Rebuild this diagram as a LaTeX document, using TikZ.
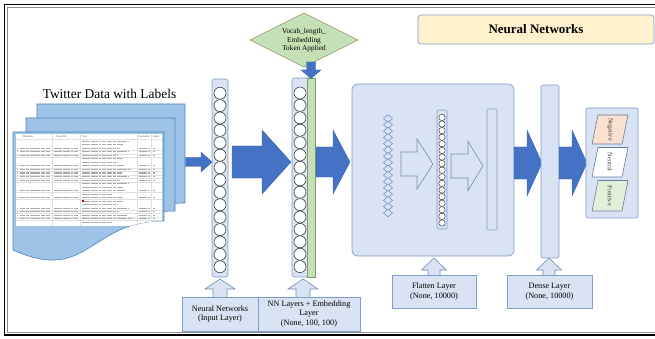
\documentclass[tikz,border=0pt]{standalone}
\usepackage{fontspec}
\setmainfont{Liberation Serif}
\usetikzlibrary{shapes.geometric}
\definecolor{lb}{HTML}{DAE3F3}
\definecolor{lbd}{HTML}{7F9CCB}
\definecolor{ab}{HTML}{4472C4}
\definecolor{docf}{HTML}{9DC3E6}
\definecolor{docd}{HTML}{4F82BE}
\definecolor{gf}{HTML}{C5E0B4}
\definecolor{gd}{HTML}{7F9B6E}
\definecolor{yf}{HTML}{FFF2CC}
\definecolor{pk}{HTML}{FAE0CF}
\definecolor{pg}{HTML}{E2F0D9}
\definecolor{tg}{HTML}{ABABAB}
\newcommand{\BArrow}[7][]{%
  \draw[#1] (#2,{#5-#6}) -- (#3,{#5-#6}) -- (#3,{#5-#7}) -- (#4,#5) -- (#3,{#5+#7}) -- (#3,{#5+#6}) -- (#2,{#5+#6}) -- cycle;}
\newcommand{\UArrow}[7][]{%
  \draw[#1] ({#2-#6},#5) -- ({#2-#6},#4) -- ({#2-#7},#4) -- (#2,#3) -- ({#2+#7},#4) -- ({#2+#6},#4) -- ({#2+#6},#5) -- cycle;}
\newcommand{\DocShape}[6][]{%
  \draw[#1] (#2,#4) -- (#3,#4) -- (#3,#5) .. controls ({(#2+#3)/2},#5) and ({(#2+#3)/2},{#5+63}) .. (#2,#6) -- cycle;}
\begin{document}
\begin{tikzpicture}[x=1pt,y=-1pt,
  doc/.style={fill=docf,draw=docd,line width=0.6pt},
  col/.style={fill=lb,draw=lbd,line width=0.6pt,rounded corners=2.5pt,inner sep=0pt},
  neur/.style={circle,fill=white,draw=black!80,line width=0.55pt,inner sep=0pt,minimum size=12pt},
  sneur/.style={circle,fill=white,draw=black!80,line width=0.45pt,inner sep=0pt,minimum size=6.4pt},
  barrow/.style={fill=ab,draw=ab!90!black,line width=0.4pt},
  harrow/.style={fill=lb,draw=lbd!90!black,line width=0.6pt},
  lab/.style={fill=lb,draw=lbd,line width=0.6pt,inner sep=0pt,align=center,font=\fontsize{8.2}{9.6}\selectfont},
  ptext/.style={rotate=-90,font=\fontsize{6.3}{7}\selectfont,text=black!75,inner sep=0pt},
  par/.style={draw=lbd!80!black,line width=0.6pt},
  tgrid/.style={draw=black!12,line width=0.3pt},
  tline/.style={draw=tg,line width=1pt,dash pattern=on 5pt off 0.8pt on 3pt off 0.8pt on 7pt off 0.8pt on 2.5pt off 0.8pt on 4pt off 0.8pt}]
\useasboundingbox (0,0) rectangle (655,339);
% frame
\draw[line width=1.5pt] (662,4.5) -- (4.5,4.5) -- (4.5,335) -- (662,335);
\draw[black!45,line width=0.5pt] (662,6.8) -- (6.8,6.8) -- (6.8,332.6) -- (662,332.6);

% title
\node[fill=yf,draw=lbd,line width=0.7pt,rounded corners=3pt,minimum width=236pt,minimum height=29pt,inner sep=0pt,font=\fontsize{13}{15}\selectfont\bfseries] (title) at (536,29.5) {Neural Networks};

% documents
\node[font=\fontsize{13.4}{15}\selectfont,inner sep=0pt] (twt) at (109.5,94) {Twitter Data with Labels};
\DocShape[doc]{37}{185}{104}{203}{231}
\DocShape[doc]{26}{175}{118}{211}{240}
\DocShape[doc]{13}{164}{132}{221}{250}
\begin{scope}
  \clip (13,132) -- (164,132) -- (164,221) .. controls (88.5,221) and (88.5,284) .. (13,250) -- cycle;
  \fill[white] (15.5,134.5) rectangle (161.5,225.5);
  \foreach \x in {52,80,137,151.5} \draw[tgrid] (\x,134.5) -- (\x,225.5);
  \foreach \y in {139.5,150.2,153.7,157.2,167.7,171.2,174.7,178.2,181.7,192.2,199.2,209.7,213.2,216.7,220.2}
    \draw[tgrid] (15.5,\y) -- (161.5,\y);
  \foreach \y in {148.5,152,155.5,166,169.5,173,176.5,180,190.5,197.5,208,211.5,215,218.5} {
    \draw[tline] (16.5,\y) -- (18.3,\y);
    \draw[tline] (20,\y) -- (50,\y);
    \draw[tline] (53.5,\y) -- (78.5,\y);
    \pgfmathsetmacro\L{118+mod(int(\y*7),17)}
    \draw[tline] (81.5,\y) -- (\L,\y);
    \draw[tline] (138.5,\y) -- (150,\y);
    \draw[tline] (153,\y) -- (154.5,\y);
  }
  \foreach \y in {141.5,145,159,162.5,183.5,187,194,201,204.5,222} {
    \pgfmathsetmacro\L{112+mod(int(\y*11),22)}
    \draw[tline] (81.5,\y) -- (\L,\y);
  }
  \fill[red!85!black] (81.5,199.6) rectangle (84.3,202.4);
  \begin{scope}[font=\fontsize{2.8}{3}\selectfont,inner sep=0pt,text=black!70]
    \node (h1) at (28,137) {Datetime};
    \node (h2) at (61,137) {Tweet Id};
    \node[anchor=west] (h3) at (82,137) {Text};
    \node (h4) at (144,137) {Username};
    \node (h5) at (156,137) {Label};
  \end{scope}
\end{scope}

% small arrow doc -> input
\BArrow[barrow]{185.5}{201}{212}{162}{4.5}{10}

% input layer
\node[col,minimum width=16pt,minimum height=198pt] (inp) at (220,178) {};
\foreach \i in {0,...,14} \node[neur] (a\i) at (220,{93.2+\i*12.4}) {};

% big arrow 1
\BArrow[barrow]{232}{262}{291}{162}{16}{32}

% NN layer + embedding
\node[col,minimum width=23pt,minimum height=199pt] (nn) at (303.5,177.5) {};
\node[fill=gf,draw=gd,line width=0.5pt,minimum width=8pt,minimum height=199pt,inner sep=0pt] (emb) at (311,177.5) {};
\foreach \i in {0,...,14} \node[neur] (b\i) at (300,{93+\i*12.4}) {};

% vocab diamond
\coordinate (vl) at (250,40);
\coordinate (vr) at (358,40);
\coordinate (vt) at (304,13);
\coordinate (vb) at (304,67);
\draw[fill=gf,draw=gd,line width=0.6pt] (vl) -- (vt) -- (vr) -- (vb) -- cycle;
\node[align=center,font=\fontsize{7.3}{8.6}\selectfont,inner sep=0pt] (voc) at (304,40.5) {Vocab\_length\_\\Embedding\\Token Applied};
\UArrow[barrow]{311}{78.5}{70}{62}{4.5}{10}

% big arrow 2
\BArrow[barrow]{316}{333}{350}{162}{15}{32}

% flatten block
\node[fill=lb,draw=lbd,line width=0.7pt,rounded corners=6pt,minimum width=162pt,minimum height=172pt,inner sep=0pt] (flat) at (433,170) {};
\foreach \i in {0,...,15} {
  \pgfmathsetmacro\yy{118.5+\i*6.3}
  \draw[fill=lb,draw=ab!80,line width=0.55pt] (383.5,\yy) -- (388,\yy-3.8) -- (392.5,\yy) -- (388,\yy+3.8) -- cycle;
}
\BArrow[harrow]{401}{417}{433}{164}{12}{25}
\node[col,minimum width=10pt,minimum height=119pt,rounded corners=2pt] (fc) at (442,169.5) {};
\foreach \i in {0,...,16} \node[sneur] (c\i) at (442,{117.4+\i*6.6}) {};
\BArrow[harrow]{451}{468}{483}{166}{12}{24.5}
\node[col,minimum width=10pt,minimum height=121pt,rounded corners=2pt] (fe) at (492,169.5) {};

% big arrow 3
\BArrow[barrow]{514}{527}{542}{163}{16}{33}
% dense
\node[col,minimum width=18pt,minimum height=173pt,rounded corners=1.5pt] (dense) at (550,171.5) {};
% big arrow 4
\BArrow[barrow]{559}{572}{587}{163}{16}{33}

% output
\node[col,minimum width=52pt,minimum height=110pt,rounded corners=2pt] (outb) at (612,163) {};
\draw[par,fill=pk] (598,115) -- (628,115) -- (622,144) -- (592,144) -- cycle;
\node[ptext] (neg) at (610,129.5) {Negative};
\draw[par,fill=white] (598,147.5) -- (628,147.5) -- (622,177) -- (592,177) -- cycle;
\node[ptext] (neu) at (610,162.2) {Neutral};
\draw[par,fill=pg] (598,180.5) -- (628,180.5) -- (622,211) -- (592,211) -- cycle;
\node[ptext] (pos) at (610,195.7) {Positive};

% bottom labels
\UArrow[harrow]{220}{279}{289}{298}{7}{15}
\node[lab,minimum width=76pt,minimum height=34pt] (l1) at (220,314) {Neural Networks\\(Input Layer)};
\UArrow[harrow]{303}{279}{289}{298}{7}{15}
\node[lab,minimum width=102pt,minimum height=34pt] (l2) at (309,314) {NN Layers + Embedding\\Layer\\(None, 100, 100)};
\UArrow[harrow]{434}{258}{270}{276}{6}{12.5}
\node[lab,minimum width=84pt,minimum height=33pt] (l3) at (434,291.5) {Flatten Layer\\(None, 10000)};
\UArrow[harrow]{549}{258}{270}{276}{6}{12.5}
\node[lab,minimum width=85pt,minimum height=33pt] (l4) at (549.5,291.5) {Dense Layer\\(None, 10000)};
\end{tikzpicture}
\end{document}
